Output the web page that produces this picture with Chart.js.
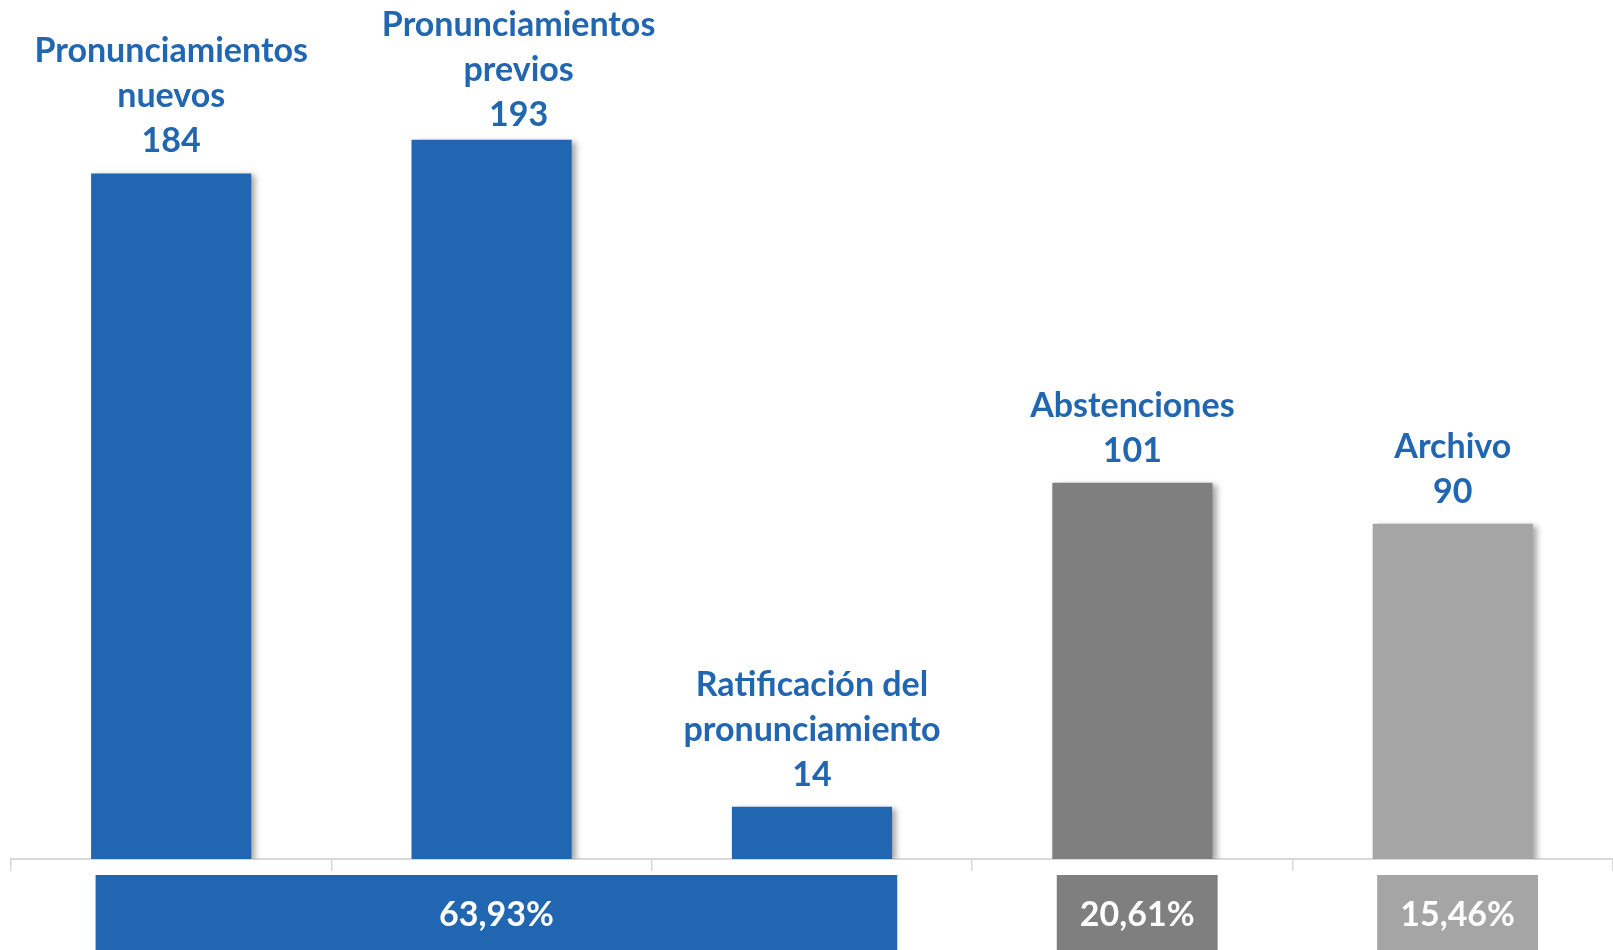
<!DOCTYPE html>
<html>
<head>
<meta charset="utf-8">
<script src="https://cdn.jsdelivr.net/npm/chart.js@4/dist/chart.umd.min.js"></script>
<style>
  html, body { margin: 0; padding: 0; background: #fff; }
  #wrap { position: relative; width: 1613px; height: 950px; overflow: hidden; }
  #top { position: absolute; left: 0; top: 0; width: 1613px; height: 872px; }
  #bottom { position: absolute; left: 0; top: 870px; width: 1613px; height: 80px; }
</style>
</head>
<body>
<div id="wrap">
  <div id="top"><canvas id="barChart"></canvas></div>
  <div id="bottom"><canvas id="shareChart"></canvas></div>
</div>
<script>
// categorias y valores
const categories = [
    ["Pronunciamientos", "nuevos"],
    ["Pronunciamientos", "previos"],
    ["Ratificación del", "pronunciamiento"],
    ["Abstenciones"],
    ["Archivo"],
];
const values = [184, 193, 14, 101, 90];

// porcentajes por grupo (primera y ultima categoria de cada grupo)
const shareLabels = ["63,93%", "20,61%", "15,46%"];
const shareFirst = [0, 3, 4];
const shareLast = [2, 3, 4];

const BLUE = "#2166B0";
const GREY_DARK = "#7F7F7F";
const GREY_LIGHT = "#A5A5A5";
const barColors = [BLUE, BLUE, BLUE, GREY_DARK, GREY_LIGHT];
const shareColors = [BLUE, GREY_DARK, GREY_LIGHT];
const AXIS = "#D9D9D9";
const FONT = "Lato, 'Open Sans', sans-serif";

// la etiqueta de "previos" esta movida a mano en el original
const labelNudge = [[0, 0], [27, 7], [0, 0], [0, 0], [0, 0]];

const shadowPlugin = {
    id: "barShadow",
    beforeDatasetsDraw(chart) {
        const ctx = chart.ctx;
        ctx.save();
        ctx.shadowColor = "rgba(0,0,0,0.35)";
        ctx.shadowBlur = 6;
        ctx.shadowOffsetX = 4;
        ctx.shadowOffsetY = 2;
    },
    afterDatasetsDraw(chart) {
        chart.ctx.restore();
    },
};

const barLabels = {
    id: "barLabels",
    afterDatasetsDraw(chart) {
        const ctx = chart.ctx;
        const meta = chart.getDatasetMeta(0);
        ctx.save();
        ctx.font = "bold 34px " + FONT;
        ctx.fillStyle = BLUE;
        ctx.textAlign = "center";
        ctx.textBaseline = "alphabetic";
        meta.data.forEach((bar, i) => {
            const lines = categories[i].concat([String(values[i])]);
            const x = bar.x + labelNudge[i][0];
            let base = bar.y - 21 + labelNudge[i][1];
            for (let k = lines.length - 1; k >= 0; k--) {
                ctx.fillText(lines[k], x, base);
                base -= 45;
            }
        });
        ctx.restore();
    },
};

new Chart(document.getElementById("barChart"), {
    type: "bar",
    data: {
        labels: categories.map(c => c.join(" ")),
        datasets: [{
            data: values,
            backgroundColor: barColors,
            borderWidth: 0,
            barPercentage: 0.5,
            categoryPercentage: 1,
        }],
    },
    options: {
        responsive: true,
        maintainAspectRatio: false,
        animation: false,
        layout: { padding: { top: 2, left: 11, right: 0, bottom: 1 } },
        plugins: { legend: { display: false }, tooltip: { enabled: false } },
        scales: {
            x: {
                grid: {
                    offset: true,
                    drawOnChartArea: false,
                    drawTicks: true,
                    tickLength: 12,
                    color: AXIS,
                    lineWidth: 1.5,
                },
                border: { display: true, color: AXIS, width: 2 },
                ticks: { display: false },
            },
            y: { display: false, min: 0, max: 230 },
        },
    },
    plugins: [shadowPlugin, barLabels],
});

// franja de porcentajes: barras flotantes sobre el indice de categoria
const HALF = 0.25;
const SHIFT = 0.015;

const shareText = {
    id: "shareText",
    afterDatasetsDraw(chart) {
        const ctx = chart.ctx;
        ctx.save();
        ctx.font = "bold 34px " + FONT;
        ctx.fillStyle = "#ffffff";
        ctx.textAlign = "center";
        ctx.textBaseline = "middle";
        chart.data.datasets.forEach((ds, i) => {
            const el = chart.getDatasetMeta(i).data[0];
            const cx = (el.x + el.base) / 2;
            ctx.fillText(shareLabels[i], cx, el.y + 3);
        });
        ctx.restore();
    },
};

new Chart(document.getElementById("shareChart"), {
    type: "bar",
    data: {
        labels: ["total"],
        datasets: shareLabels.map((lbl, i) => ({
            label: lbl,
            data: [[shareFirst[i] - HALF + SHIFT, shareLast[i] + HALF + SHIFT]],
            backgroundColor: shareColors[i],
            borderWidth: 0,
            barPercentage: 1,
            categoryPercentage: 1,
        })),
    },
    options: {
        indexAxis: "y",
        responsive: true,
        maintainAspectRatio: false,
        animation: false,
        layout: { padding: { top: 5, left: 11, right: 0, bottom: 0 } },
        plugins: { legend: { display: false }, tooltip: { enabled: false } },
        datasets: { bar: { grouped: false } },
        scales: {
            x: { display: false, min: -0.5, max: 4.5 },
            y: { display: false },
        },
    },
    plugins: [shareText],
});
</script>
</body>
</html>
